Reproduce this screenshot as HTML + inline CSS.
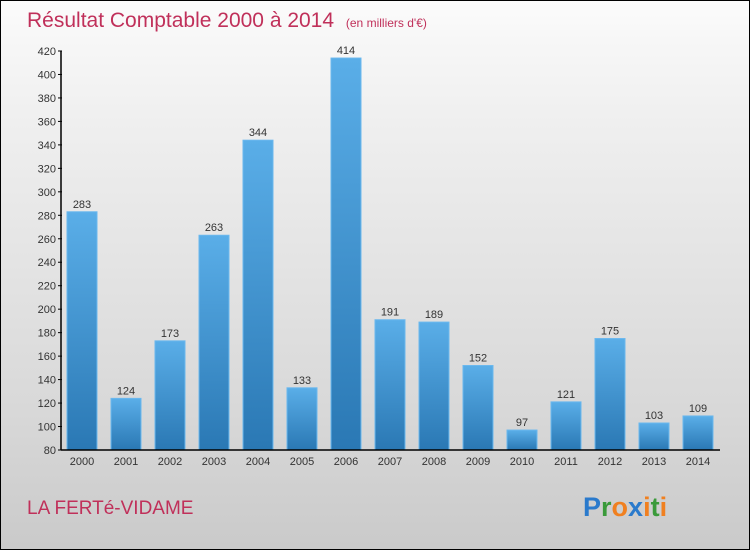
<!DOCTYPE html>
<html><head><meta charset="utf-8"><style>
body{margin:0;width:750px;height:550px;overflow:hidden;font-family:"Liberation Sans",sans-serif}
#frame{position:absolute;left:0;top:0;width:748px;height:548px;border:1px solid #000;background:linear-gradient(#fbfbfb,#f0f0f0 20%,#d8d8d8 75%,#cacaca)}
</style></head><body>
<div id="frame"></div>
<svg width="750" height="550" style="position:absolute;left:0;top:0">
<defs><linearGradient id="bg" x1="0" y1="0" x2="0" y2="1"><stop offset="0" stop-color="#5aaee8"/><stop offset="1" stop-color="#2a78b4"/></linearGradient></defs>
<text x="27" y="27" font-size="21" fill="#c0305a">Résultat Comptable 2000 à 2014 <tspan font-size="12" dx="6">(en milliers d'€)</tspan></text>
<g id="g"></g>
<text x="27" y="514" font-size="19" fill="#c0305a">LA FERTé-VIDAME</text>
<text x="583" y="516" font-size="27" font-weight="bold"><tspan fill="#2a7acc">P</tspan><tspan fill="#3a9a3a">r</tspan><tspan fill="#f08020">o</tspan><tspan fill="#2a7acc">x</tspan><tspan fill="#f08020">i</tspan><tspan fill="#3a9a3a">t</tspan><tspan fill="#f08020">i</tspan></text>
</svg>
<script>
const years=["2000","2001","2002","2003","2004","2005","2006","2007","2008","2009","2010","2011","2012","2013","2014"];
const values=[283,124,173,263,344,133,414,191,189,152,97,121,175,103,109];
const ticks=[80,100,120,140,160,180,200,220,240,260,280,300,320,340,360,380,400,420];
const NS="http://www.w3.org/2000/svg",g=document.getElementById('g');
const y=v=>450-(v-80)*(399/340), x=i=>82+i*44;
function mk(t,a,txt){const e=document.createElementNS(NS,t);for(const k in a)e.setAttribute(k,a[k]);if(txt!=null)e.textContent=txt;g.appendChild(e);return e;}
ticks.forEach(t=>{
 const l=mk('line',{x1:58,x2:62,y1:y(t),y2:y(t),stroke:'#000'});
 
 
 const tx=mk('text',{x:56,y:y(t)+4,'font-size':11,'text-anchor':'end',fill:'#333'},t);
 
 
});
values.forEach((v,i)=>{
 const r=mk('rect',{x:x(i)-15,y:y(v),width:30,height:450-y(v),fill:'url(#bg)',stroke:'#6ab8ee','stroke-width':1});
 
 
 const vl=mk('text',{x:x(i),y:y(v)-4,'font-size':11,'text-anchor':'middle',fill:'#333'},v);
 
 
 const xl=mk('text',{x:x(i),y:465,'font-size':11,'text-anchor':'middle',fill:'#333'},years[i]);
 
 
});
const ya=mk('line',{x1:61,x2:61,y1:y(420),y2:450,stroke:'#000','stroke-width':1.5});


const xa=mk('line',{x1:61,x2:720,y1:450,y2:450,stroke:'#000','stroke-width':1.5});


</script>
</body></html>
